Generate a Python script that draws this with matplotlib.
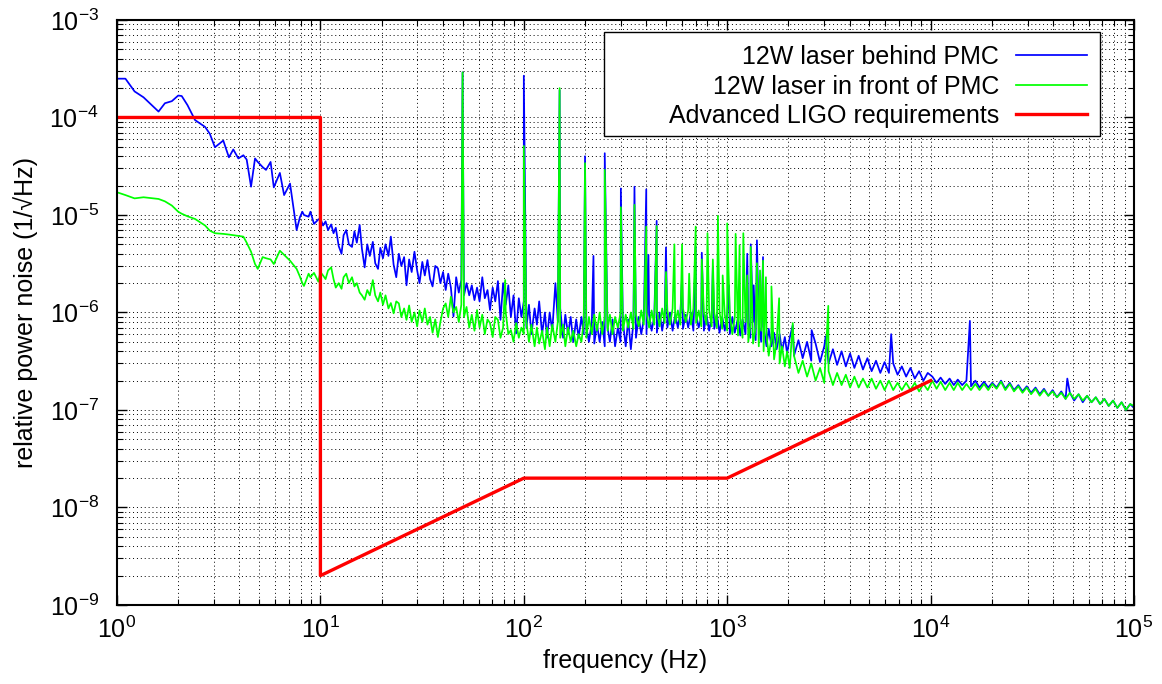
import numpy as np
import matplotlib
matplotlib.use("Agg")
import matplotlib.pyplot as plt
from matplotlib.patches import Rectangle

plt.rcParams['font.family'] = ['Liberation Sans', 'DejaVu Sans']
plt.rcParams['mathtext.fontset'] = 'custom'
plt.rcParams['mathtext.rm'] = 'Liberation Sans'
plt.rcParams['mathtext.it'] = 'Liberation Sans'
plt.rcParams['mathtext.default'] = 'regular'

# frequency bins (Hz), shared by both measured spectra
band_freq = [
    1.0, 1.1, 1.22, 1.35, 1.6, 1.72, 1.86, 2.0, 2.08, 2.22,
    2.42, 2.71, 2.86, 3.03, 3.33, 3.55, 3.73, 3.95, 4.18, 4.34,
    4.56, 4.77, 4.92, 5.2, 5.4, 5.69, 5.9, 6.32, 6.63, 7.09,
    7.64, 7.93, 8.15, 8.3, 8.75, 8.93, 9.3, 9.77,
    10.0, 10.3, 10.6, 10.9, 11.3, 11.6, 11.9, 12.3, 12.7, 13.0,
    13.4, 13.8, 14.3, 14.7, 15.1, 15.6, 16.0, 16.5, 17.0, 17.5,
    18.1, 18.6, 19.2, 19.7, 20.3, 20.9, 21.6, 22.2, 22.9, 23.6,
    24.3, 25.0, 25.8, 26.5, 27.3, 28.1, 29.0, 29.9, 30.7, 31.7,
    32.6, 33.6, 34.6, 35.6, 36.7, 37.8, 38.9, 40.1, 41.3, 42.5,
    43.8, 45.1, 46.5, 47.9, 49.3, 50.8, 52.3, 53.9, 55.5, 57.2,
    58.9, 60.6, 62.5, 64.3, 66.3, 68.2, 70.3, 72.4, 74.6, 76.8,
    79.1, 81.5, 83.9, 86.4, 89.0, 91.7, 94.5, 97.3,
    100, 103, 106, 109, 113, 116, 119, 123, 127, 130,
    134, 138, 143, 147, 151, 156, 160, 165, 170, 175,
    181, 186, 192, 197, 203, 209, 216, 222, 229, 236,
    243, 250, 258, 265, 273, 281, 290, 299, 307, 317,
    326, 336, 346, 356, 367, 378, 389, 401, 413, 425,
    438, 451, 465, 479, 493, 508, 523, 539, 555, 572,
    589, 606, 625, 643, 663, 682, 703, 724, 746, 768,
    791, 815, 839, 864, 890, 917, 945, 973,
    1000, 1030, 1060, 1090, 1130, 1160, 1190, 1230, 1270, 1300,
    1340, 1380, 1430, 1470, 1510, 1560, 1600, 1650, 1700, 1750,
    1810, 1860, 1920, 1970,
    2030, 2130, 2240, 2350, 2470, 2590, 2720, 2860, 3000, 3150,
    3310, 3470, 3650, 3830, 4020, 4220, 4430, 4650, 4890, 5130,
    5390, 5660, 5940, 6240, 6550, 6880, 7220, 7580, 7960, 8360,
    8780, 9220, 9680, 10200, 10700, 11200, 11800, 12400, 13000, 13600,
    14300, 15000, 15800, 16600, 17400, 18300, 19200, 20100, 21100, 22200,
    23300, 24500, 25700, 27000, 28300, 29700, 31200, 32800, 34400, 36100,
    37900, 39800, 41800, 43900, 46100, 48400, 50800, 53400, 56000, 58800,
    61800, 64900, 68100, 71500, 75100, 78900, 82800, 86900, 91300, 95800,
    100000,
]

# relative power noise in units of 1e-6 / sqrt(Hz)
blue_band = [
    250, 250, 185, 161, 115, 140, 147, 168, 166, 134,
    94, 80, 68, 49.5, 58, 39, 47, 38, 41, 37,
    19.5, 38, 35, 31, 29, 35, 19.2, 27, 16, 21,
    7.0, 9.5, 10.8, 10.0, 9.6, 10.8, 8.1, 9.0,
    9.2, 7.8, 8.6, 7.0, 8.0, 6.5, 7.4, 4.8, 4.0, 6.2,
    7.0, 5.0, 4.7, 6.8, 5.2, 7.9, 4.5, 2.9, 5.0, 3.8,
    5.3, 3.2, 2.8, 4.6, 3.6, 5.0, 3.8, 6.0, 3.1, 2.3,
    4.0, 3.0, 3.7, 1.9, 3.5, 2.6, 4.2, 2.7, 2.0, 3.3,
    2.4, 3.45, 2.2, 1.85, 3.0, 2.84, 2.0, 2.6, 1.7, 2.5,
    1.8, 0.91, 2.3, 1.6, 2.15, 1.5, 2.0, 1.5, 1.9, 1.34,
    1.8, 1.3, 2.3, 1.4, 1.7, 1.06, 1.8, 1.3, 2.1, 0.84,
    2.0, 1.2, 1.9, 0.9, 1.5, 0.61, 1.4, 0.9,
    1.3, 0.7, 1.2, 0.6, 1.1, 0.75, 1.3, 0.6, 1.0, 0.55,
    1.0, 0.65, 2.0, 0.8, 1.1, 0.55, 0.95, 0.6, 0.9, 0.5,
    0.85, 0.55, 0.9, 0.6, 0.7, 0.5, 0.8, 0.48, 0.75, 0.5,
    0.8, 0.45, 0.7, 0.5, 0.85, 0.45, 0.7, 0.5, 0.8, 0.45,
    0.85, 0.42, 0.8, 0.55, 0.9, 0.6, 0.85, 0.6, 0.95, 0.65,
    0.9, 0.62, 1.0, 0.65, 0.95, 0.7, 1.0, 0.65, 0.95, 0.7,
    1.0, 0.68, 0.95, 0.7, 1.0, 0.65, 0.95, 0.7, 0.9, 0.65,
    0.95, 0.65, 0.9, 0.68, 0.95, 0.62, 0.9, 0.65,
    0.95, 0.6, 0.9, 0.62, 0.88, 0.58, 0.85, 0.6, 0.8, 0.55,
    0.8, 0.52, 0.75, 0.5, 0.72, 0.45, 0.68, 0.45, 0.62, 0.42,
    0.6, 0.4, 0.56, 0.38,
    0.55, 0.36, 0.52, 0.34, 0.5, 0.32, 0.48, 0.31, 0.45, 0.3,
    0.42, 0.29, 0.4, 0.28, 0.38, 0.27, 0.36, 0.26, 0.34, 0.25,
    0.32, 0.24, 0.31, 0.24, 0.3, 0.23, 0.28, 0.22, 0.27, 0.21,
    0.25, 0.2, 0.24, 0.22, 0.19, 0.215, 0.185, 0.21, 0.18, 0.205,
    0.18, 0.2, 0.175, 0.2, 0.17, 0.195, 0.17, 0.19, 0.17, 0.2,
    0.165, 0.19, 0.16, 0.18, 0.155, 0.175, 0.15, 0.17, 0.145, 0.165,
    0.14, 0.16, 0.135, 0.155, 0.13, 0.15, 0.125, 0.145, 0.12, 0.14,
    0.12, 0.135, 0.115, 0.13, 0.11, 0.125, 0.105, 0.12, 0.1, 0.115,
    0.105,
]

green_band = [
    17.1, 16.0, 14.8, 15.2, 14.6, 13.8, 12.5, 10.8, 10.3, 9.7,
    9.1, 7.8, 6.9, 6.5, 6.4, 6.3, 6.2, 6.1, 6.0, 5.2,
    4.2, 3.14, 2.8, 3.7, 3.6, 3.5, 3.14, 4.3, 3.9, 3.4,
    2.8, 2.33, 2.0, 1.87, 2.5, 2.3, 2.55, 2.07,
    2.6, 2.4, 2.2, 2.7, 2.9, 2.2, 1.8, 2.0, 1.75, 2.3,
    2.5, 2.0, 2.3, 1.85, 2.0, 1.6, 1.5, 1.35, 1.7, 1.5,
    2.15, 1.5, 1.3, 1.6, 1.2, 1.5, 1.1, 1.25, 0.98, 1.3,
    1.24, 0.9, 1.1, 0.84, 1.18, 0.8, 1.0, 0.72, 1.05, 0.8,
    1.1, 0.75, 0.9, 0.62, 0.85, 0.56, 0.8, 1.1, 1.24, 0.9,
    1.45, 1.0, 1.14, 0.8, 1.2, 0.9, 1.14, 0.7, 0.95, 0.65,
    1.06, 0.7, 0.95, 0.6, 0.85, 0.78, 0.56, 0.9, 0.84, 0.55,
    0.7, 1.0, 0.6, 0.66, 0.5, 0.78, 0.55, 0.7,
    0.6, 0.8, 0.5, 0.75, 0.45, 0.7, 0.48, 0.65, 0.42, 0.7,
    0.45, 0.75, 0.5, 0.8, 0.55, 0.75, 0.45, 0.7, 0.5, 0.65,
    0.45, 0.6, 0.5, 0.8, 0.55, 0.9, 0.6, 0.95, 0.65, 1.0,
    0.6, 0.9, 0.65, 0.95, 0.6, 0.9, 0.7, 1.0, 0.65, 0.95,
    0.7, 1.0, 0.68, 0.95, 0.72, 1.05, 0.75, 1.0, 0.7, 1.05,
    0.75, 1.05, 0.72, 1.1, 0.78, 1.05, 0.75, 1.1, 0.78, 1.05,
    0.75, 1.1, 0.8, 1.05, 0.75, 1.1, 0.78, 1.05, 0.72, 1.0,
    0.75, 1.05, 0.72, 1.0, 0.7, 1.0, 0.68, 0.95,
    0.65, 0.95, 0.6, 0.9, 0.58, 0.85, 0.55, 0.8, 0.5, 0.75,
    0.48, 0.7, 0.45, 0.65, 0.4, 0.6, 0.36, 0.55, 0.33, 0.5,
    0.3, 0.45, 0.28, 0.4,
    0.27, 0.36, 0.24, 0.32, 0.22, 0.3, 0.2, 0.27, 0.19, 0.25,
    0.18, 0.24, 0.18, 0.23, 0.17, 0.22, 0.17, 0.21, 0.17, 0.21,
    0.165, 0.2, 0.16, 0.2, 0.16, 0.19, 0.16, 0.19, 0.16, 0.19,
    0.155, 0.185, 0.16, 0.2, 0.165, 0.195, 0.16, 0.19, 0.16, 0.19,
    0.16, 0.185, 0.16, 0.185, 0.16, 0.185, 0.16, 0.185, 0.165, 0.195,
    0.16, 0.185, 0.155, 0.175, 0.15, 0.17, 0.145, 0.165, 0.14, 0.16,
    0.14, 0.155, 0.135, 0.15, 0.13, 0.15, 0.13, 0.145, 0.125, 0.14,
    0.12, 0.135, 0.115, 0.13, 0.11, 0.125, 0.105, 0.12, 0.1, 0.115,
    0.11,
]

# narrow lines (mains harmonics etc.), peak value in units of 1e-6
blue_line_freq = [50, 100, 150, 200, 220, 250, 300, 350, 400, 410, 450, 500, 600,
                  700, 750, 850, 1020, 1255, 1305, 1350, 1400, 1500, 2100, 2600,
                  3050, 6400, 15600, 47000]
blue_line_peak = [290, 268, 190, 40, 3.8, 43, 18.7, 19.5, 18.3, 3.9, 8.7, 4.65, 2.4,
                  4.7, 4.1, 2.9, 1.9, 4.0, 5.0, 1.9, 5.5, 3.7, 0.74, 0.66,
                  0.57, 0.6, 0.82, 0.21]

green_line_freq = [50, 81, 100, 150, 200, 250, 300, 350, 400, 450, 500, 550, 600, 650,
                   700, 750, 800, 850, 900, 950, 1000, 1100, 1150, 1200, 1255, 1305,
                   1400, 1450, 1500, 1550, 1650, 1800, 2100, 3140]
green_line_peak = [290, 2.15, 51, 200, 34, 29, 12, 12.7, 7.6, 7.7, 2.6, 5.0, 5.0, 2.5,
                   7.6, 3.5, 6.5, 3.5, 9.8, 2.4, 8.2, 6.4, 4.9, 6.5, 2.4, 4.7,
                   3.2, 2.7, 3.4, 2.3, 1.85, 1.4, 0.78, 1.17]

# Advanced LIGO requirement
req_freq = [1, 10, 10, 100, 1000, 10000]
req_level = [1e-4, 1e-4, 2e-9, 2e-8, 2e-8, 2e-7]


def merge(freq, vals, line_f, line_p):
    f = np.concatenate([freq, line_f])
    v = np.concatenate([vals, line_p]) * 1e-6
    order = np.argsort(f, kind="stable")
    return f[order], v[order]


bf, bv = merge(band_freq, blue_band, blue_line_freq, blue_line_peak)
gf, gv = merge(band_freq, green_band, green_line_freq, green_line_peak)

fig = plt.figure(figsize=(11.62, 6.84), dpi=100)
ax = fig.add_axes([0.1007, 0.1155, 0.8752, 0.8553])

ax.plot(bf, bv, color='#0000ff', lw=1.25, label='12W laser behind PMC')
ax.plot(gf, gv, color='#00ff00', lw=1.25, label='12W laser in front of PMC')
ax.plot(req_freq, req_level, color='#ff0000', lw=2.4, label='Advanced LIGO requirements')

ax.set_xscale('log')
ax.set_yscale('log')
ax.set_xlim(1, 1e5)
ax.set_ylim(1e-9, 1e-3)

ax.grid(True, which='both', color='black', ls=(0, (1, 3)), lw=0.7)
ax.tick_params(which='both', direction='in', top=True, right=True, labelsize=18)
ax.tick_params(axis='x', which='major', pad=8)
ax.tick_params(axis='y', which='major', pad=13)
ax.tick_params(which='major', length=7, width=1)
ax.tick_params(which='minor', length=4, width=0.8)
for s in ax.spines.values():
    s.set_linewidth(1.5)

ax.set_xlabel('frequency (Hz)', fontsize=18, labelpad=5)
ax.set_ylabel('relative power noise (1/\u221aHz)', fontsize=18, labelpad=8)

# legend box (gnuplot style: wide frame, labels right-aligned, samples on the right)
ax.add_patch(Rectangle((0.4789, 0.8017), 0.4877, 0.1778, transform=ax.transAxes,
                       facecolor='white', edgecolor='black', lw=1.0, zorder=4))
leg = ax.legend(loc='upper right', bbox_to_anchor=(0.9538, 0.957), borderaxespad=0,
                markerfirst=False, fontsize=18, frameon=False, handlelength=2.84,
                handletextpad=0.68, labelspacing=0.22, borderpad=0)
leg.set_zorder(5)

fig.savefig('out.png', dpi=100)
